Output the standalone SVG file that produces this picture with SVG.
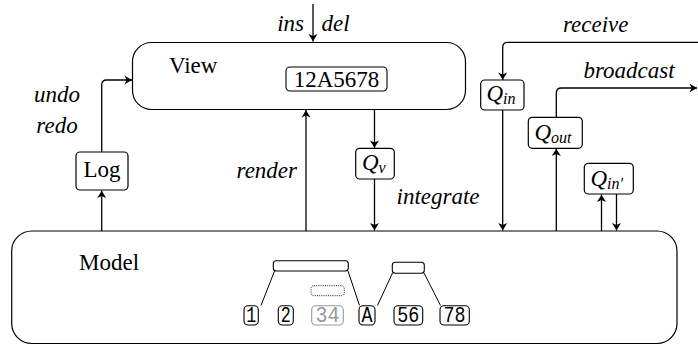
<svg xmlns="http://www.w3.org/2000/svg" width="698" height="345" viewBox="0 0 698 345">
<defs>
<marker id="ah" markerUnits="userSpaceOnUse" markerWidth="12" markerHeight="12" viewBox="-9 -6 10 12" refX="0" refY="0" orient="auto">
<path d="M0,0 C-2,-1 -5,-3 -7.5,-4.5 L-5.5,0 L-7.5,4.5 C-5,3 -2,1 0,0 Z" fill="#000"/>
</marker>
</defs>
<g id="connectors" fill="none" stroke="#000" stroke-width="1.3" marker-end="url(#ah)">
<path d="M313,4 V41.5"/>
<path d="M101.7,152 V85 Q101.7,80 106.7,80 H132"/>
<path d="M101.7,231 V190.5"/>
<path d="M306,231 V110"/>
<path d="M374.5,109.5 V148"/>
<path d="M374.5,179 V230.5"/>
<path d="M698,42.3 H507.7 Q502.7,42.3 502.7,47.3 V80"/>
<path d="M502.7,110 V230.5"/>
<path d="M556.3,117.3 V93 Q556.3,88 561.3,88 H697"/>
<path d="M556.3,231 V148.5"/>
<path d="M601.5,231 V194.5"/>
<path d="M616.5,194 V230.5"/>
</g>
<g id="labels">
<text font-family="Liberation Serif" font-style="italic" font-size="23" x="304" y="31" text-anchor="end">ins</text>
<text font-family="Liberation Serif" font-style="italic" font-size="23" x="321.5" y="31">del</text>
<text font-family="Liberation Serif" font-style="italic" font-size="23" x="57" y="102" text-anchor="middle">undo</text>
<text font-family="Liberation Serif" font-style="italic" font-size="23" x="57" y="132.5" text-anchor="middle">redo</text>
<text font-family="Liberation Serif" font-style="italic" font-size="23" x="297" y="178" text-anchor="end">render</text>
<text font-family="Liberation Serif" font-style="italic" font-size="23" x="396.5" y="204">integrate</text>
<text font-family="Liberation Serif" font-style="italic" font-size="23" x="563" y="32">receive</text>
<text font-family="Liberation Serif" font-style="italic" font-size="23" x="583.5" y="78">broadcast</text>
</g>
<g id="view">
<rect x="132.5" y="42.5" width="333" height="67" rx="19" fill="#fff" stroke="#000" stroke-width="1.2"/>
<text font-family="Liberation Serif" font-size="23" x="169" y="73">View</text>
<rect x="286" y="67" width="101" height="24" rx="4" fill="#fff" stroke="#000" stroke-width="1.1"/>
<text font-family="Liberation Serif" font-size="23" x="336.5" y="87" text-anchor="middle">12A5678</text>
</g>
<g id="log">
<rect x="76" y="152" width="52" height="38" rx="4" fill="#fff" stroke="#000" stroke-width="1.2"/>
<text font-family="Liberation Serif" font-size="23" x="102" y="177" text-anchor="middle">Log</text>
</g>
<g id="qv">
<rect x="355.7" y="148.3" width="38.6" height="30.7" rx="4" fill="#fff" stroke="#000" stroke-width="1.2"/>
<text font-family="Liberation Serif" font-style="italic" font-size="23" x="362" y="170">Q</text>
<text font-family="Liberation Serif" font-style="italic" font-size="16" x="378.5" y="173">v</text>
</g>
<g id="qin">
<rect x="480.7" y="80" width="43.3" height="30" rx="4" fill="#fff" stroke="#000" stroke-width="1.2"/>
<text font-family="Liberation Serif" font-style="italic" font-size="23" x="486.5" y="101">Q</text>
<text font-family="Liberation Serif" font-style="italic" font-size="16" x="503" y="104">in</text>
</g>
<g id="qout">
<rect x="528.3" y="117.3" width="54" height="31" rx="4" fill="#fff" stroke="#000" stroke-width="1.2"/>
<text font-family="Liberation Serif" font-style="italic" font-size="23" x="534.5" y="140">Q</text>
<text font-family="Liberation Serif" font-style="italic" font-size="16" x="551" y="143">out</text>
</g>
<g id="qinp">
<rect x="584.3" y="163.3" width="49" height="30.7" rx="4" fill="#fff" stroke="#000" stroke-width="1.2"/>
<text font-family="Liberation Serif" font-style="italic" font-size="23" x="590.5" y="186">Q</text>
<text font-family="Liberation Serif" font-style="italic" font-size="16" x="607" y="189">in'</text>
</g>
<g id="model">
<rect x="11.7" y="231" width="665.3" height="112.5" rx="20" fill="#fff" stroke="#000" stroke-width="1.2"/>
<text font-family="Liberation Serif" font-size="23" x="79" y="270">Model</text>
</g>
<g id="tree" fill="#fff" stroke="#000" stroke-width="1.1">
<line x1="274.5" y1="271" x2="261" y2="305.5" stroke-width="1"/>
<line x1="348" y1="271" x2="359.5" y2="305.5" stroke-width="1"/>
<line x1="392.5" y1="273" x2="377.5" y2="305.5" stroke-width="1"/>
<line x1="424" y1="273" x2="440.5" y2="305.5" stroke-width="1"/>
<rect x="273.3" y="260.7" width="75" height="10.3" rx="3"/>
<rect x="392.3" y="262.3" width="32" height="11" rx="3"/>
<rect x="311" y="285.7" width="33.3" height="10" rx="3" fill="none" stroke-width="0.9" stroke-dasharray="1 1.2"/>
<rect x="244" y="305.7" width="14.3" height="19.3" rx="4"/>
<rect x="278.3" y="305.7" width="15" height="19.3" rx="4"/>
<rect x="311.7" y="305.7" width="31.6" height="19.3" rx="4" stroke="#999"/>
<rect x="359" y="305.7" width="16" height="19.3" rx="4"/>
<rect x="394" y="305.7" width="28.7" height="19.3" rx="4"/>
<rect x="440" y="305.7" width="29.3" height="19.3" rx="4"/>
<text font-family="Liberation Mono" font-size="22" fill="#000" stroke="none" x="251.2" y="322" text-anchor="middle" textLength="10" lengthAdjust="spacingAndGlyphs">1</text>
<text font-family="Liberation Mono" font-size="22" fill="#000" stroke="none" x="285.8" y="322" text-anchor="middle" textLength="10" lengthAdjust="spacingAndGlyphs">2</text>
<text font-family="Liberation Mono" font-size="22" fill="#999" stroke="none" x="327.5" y="322" text-anchor="middle" textLength="24" lengthAdjust="spacingAndGlyphs">34</text>
<text font-family="Liberation Mono" font-size="22" fill="#000" stroke="none" x="367" y="322" text-anchor="middle" textLength="11" lengthAdjust="spacingAndGlyphs">A</text>
<text font-family="Liberation Mono" font-size="22" fill="#000" stroke="none" x="408.3" y="322" text-anchor="middle" textLength="22" lengthAdjust="spacingAndGlyphs">56</text>
<text font-family="Liberation Mono" font-size="22" fill="#000" stroke="none" x="454.6" y="322" text-anchor="middle" textLength="22" lengthAdjust="spacingAndGlyphs">78</text>
</g>
</svg>
